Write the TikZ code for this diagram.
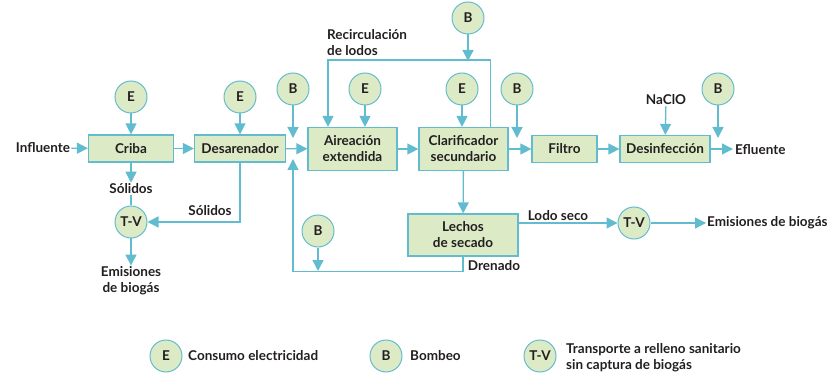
\documentclass[tikz,border=0pt]{standalone}
\usepackage{fontspec}
\setmainfont{Lato}
\usetikzlibrary{arrows.meta, positioning}
\definecolor{myteal}{RGB}{98,188,208}
\definecolor{mygreen}{RGB}{220,234,197}
\definecolor{mytext}{RGB}{35,31,32}

\begin{document}
\begin{tikzpicture}[x=1pt,y=-1pt,font=\fontsize{13.5}{16}\selectfont\bfseries,text=mytext,
          box/.style={draw=myteal,fill=mygreen,line width=1.2pt,
                      minimum height=27pt,align=center,inner sep=1pt},
          tag/.style={circle,draw=myteal,fill=mygreen,line width=1pt,
                      minimum size=32pt,inner sep=0pt},
          lbl/.style={align=center,inner sep=1pt},
          flow/.style={draw=myteal,line width=1.3pt,
                       -{Triangle[length=11pt,width=11pt]}},
          pipe/.style={draw=myteal,line width=1.3pt}]
        \useasboundingbox (0,0) rectangle (837,379);
        % main line
        \node[lbl](infl) at (43,148){Influente};
        \node[box,minimum width=85pt](criba) at (131,148.5){Criba};
        \node[box,minimum width=91pt](desar) at (240,148.5){Desarenador};
        \node[box,minimum width=89pt,minimum height=43pt](aire) at (352.5,149){Aireación\\extendida};
        \node[box,minimum width=89pt,minimum height=43pt](clar) at (463.5,149){Clarificador\\secundario};
        \node[box,minimum width=65pt](filtro) at (564.5,149){Filtro};
        \node[box,minimum width=90pt](desin) at (665,149){Desinfección};
        \node[lbl,anchor=west](eflu) at (734,150){Efluente};
        \node[box,minimum width=110pt,minimum height=42pt](lechos) at (463,235){Lechos\\de secado};
        % consumos
        \node[tag](e1) at (131,97){E};
        \node[tag](e2) at (240,97){E};
        \node[tag](b1) at (293,89){B};
        \node[tag](e3) at (365,89){E};
        \node[tag](e4) at (462,89){E};
        \node[tag](b2) at (468,18){B};
        \node[tag](b3) at (517,89){B};
        \node[tag](b4) at (718,89){B};
        \node[tag](b5) at (318,231){B};
        \node[tag](tv1) at (131,222){T-V};
        \node[tag](tv2) at (634,223){T-V};
        % textos
        \node[lbl](sol1) at (131,189){Sólidos};
        \node[lbl](sol2) at (210,211){Sólidos};
        \node[lbl](emis1) at (131,281){Emisiones\\de biogás};
        \node[lbl,anchor=west](emis2) at (706,223){Emisiones de biogás};
        \node[lbl,anchor=west,align=left](recir) at (326,43){Recirculación\\de lodos};
        \node[lbl](naclo) at (666,100){NaClO};
        \node[lbl](lseco) at (558,216){Lodo seco};
        \node[lbl](dren) at (494,266){Drenado};
        \coordinate (mixtop) at (293,138);
        \coordinate (mixbot) at (293,159);
        \coordinate (clartop) at (517,138);
        \coordinate (desintop) at (718,138);
        \coordinate (drenline) at (318,271);
        \coordinate (eflutip) at (733,149);
        % flujo
        \draw[flow](infl)--(criba);
        \draw[flow](criba)--(desar);
        \draw[flow](desar)--(aire);
        \draw[flow](aire)--(clar);
        \draw[flow](clar)--(filtro);
        \draw[flow](filtro)--(desin);
        \draw[flow](desin)--(eflutip);
        \draw[flow](clar)--(lechos);
        \draw[flow](criba)--(sol1);
        \draw[pipe](sol1)--(tv1);
        \draw[flow](tv1)--(emis1);
        \draw[flow](desar.south)|-(tv1);
        \draw[flow]([xshift=27pt]clar.north)--++(0,-67)-|([xshift=-24.5pt]aire.north);
        \draw[flow](lechos.south)--++(0,15)-|(mixbot);
        \draw[flow](lechos.east |- tv2)--(tv2);
        \draw[flow](tv2)--(emis2);
        \draw[flow](naclo)--(desin);
        \foreach \a/\b in {e1/criba,e2/desar,e3/aire,e4/clar}
          \draw[flow](\a)--(\b.north -| \a);
        \draw[flow](b1)--(mixtop);
        \draw[flow](b2)--(b2 |- 0,61);
        \draw[flow](b3)--(clartop);
        \draw[flow](b4)--(desintop);
        \draw[flow](b5)--(drenline);
        % leyenda
        \node[tag](le) at (166,356){E};
        \node[lbl,anchor=west](lete) at (187,356){Consumo electricidad};
        \node[tag](lb) at (386,356){B};
        \node[lbl,anchor=west](lbte) at (409,356){Bombeo};
        \node[tag](ltv) at (540,356){T-V};
        \node[lbl,anchor=west,align=left](ltvte) at (565,358){Transporte a relleno sanitario\\sin captura de biogás};
      \end{tikzpicture}
\end{document}
